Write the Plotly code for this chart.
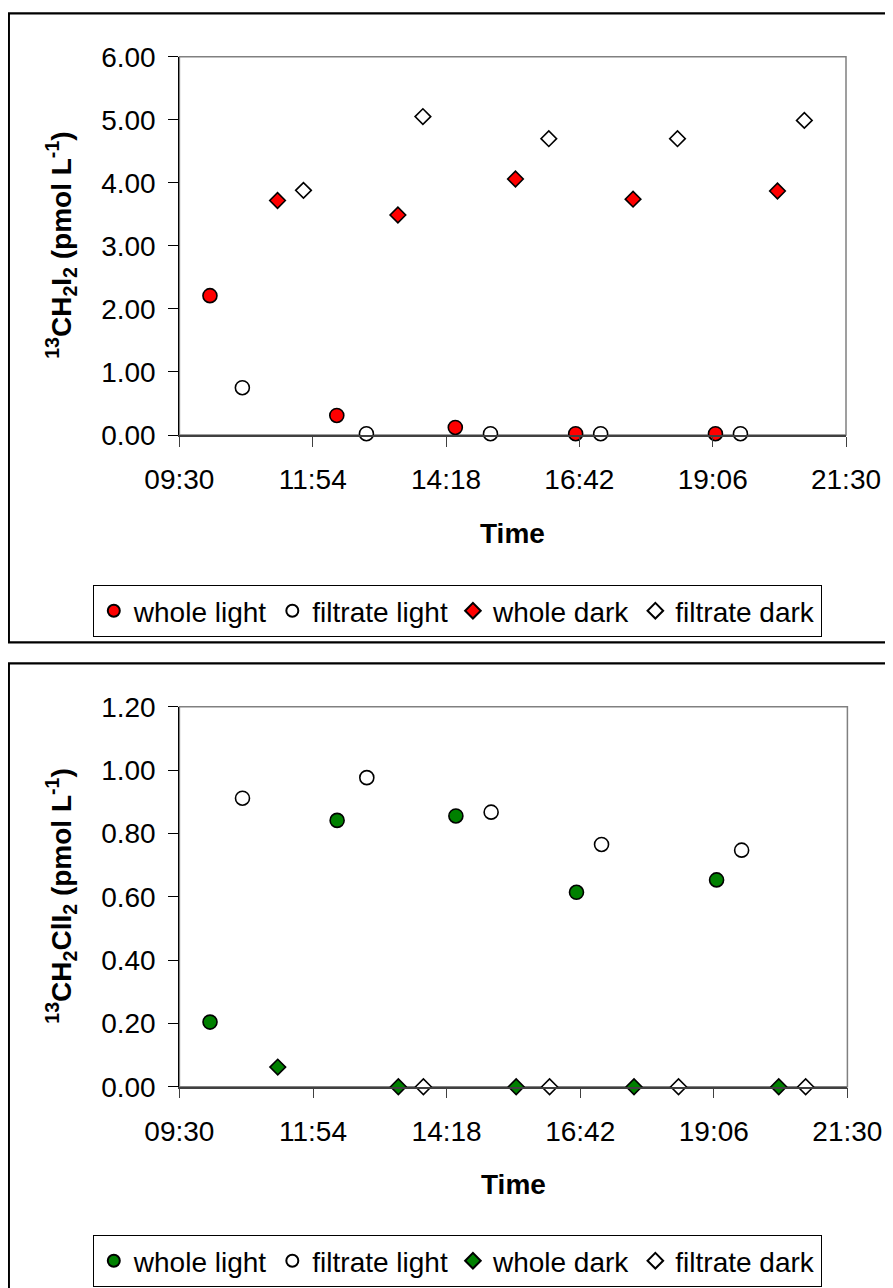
import plotly.graph_objects as go

# The page body adds an 8 px margin, so the figure is 8 px smaller and all
# reference pixel positions are shifted by that offset.
OFF = 8
W, H = 893 - OFF, 1288 - OFF
DAY = "2024-01-01 "

# ---------------- data ----------------
t_whole_light = ["10:03", "12:20", "14:28", "16:38", "19:09"]
t_filt_light = ["10:38", "12:52", "15:06", "17:05", "19:36"]
t_whole_dark = ["11:16", "13:26", "15:33", "17:40", "20:16"]
t_filt_dark = ["11:44", "13:53", "16:09", "18:28", "20:45"]

ch2i2_whole_light = [2.21, 0.31, 0.12, 0.02, 0.02]
ch2i2_filt_light = [0.75, 0.02, 0.02, 0.02, 0.02]
ch2i2_whole_dark = [3.72, 3.49, 4.06, 3.74, 3.87]
ch2i2_filt_dark = [3.88, 5.05, 4.70, 4.70, 4.99]

ch2cli_whole_light = [0.204, 0.841, 0.855, 0.614, 0.653]
ch2cli_filt_light = [0.911, 0.976, 0.867, 0.765, 0.747]
ch2cli_whole_dark = [0.062, 0.0, 0.0, 0.0, 0.0]
t_filt_dark_b = ["13:53", "16:09", "18:28", "20:45"]
ch2cli_filt_dark = [0.0, 0.0, 0.0, 0.0]

series_names = ["whole light", "filtrate light", "whole dark", "filtrate dark"]
x_ticks = ["09:30", "11:54", "14:18", "16:42", "19:06", "21:30"]

# ---------------- figure ----------------
FONT = "Liberation Sans, Arial, sans-serif"
fig = go.Figure()

def px_x(p):
    return (p - OFF) / W

def px_y(p):
    return 1 - (p - OFF) / H

def add(xs, ys, name, symbol, color, xa, ya, leg):
    size = 14 if symbol == "circle" else 12
    fig.add_trace(go.Scatter(
        x=[DAY + t for t in xs], y=ys, mode="markers", name=name,
        xaxis=xa, yaxis=ya, legend=leg, cliponaxis=False,
        marker=dict(symbol=symbol, size=size, color=color,
                    line=dict(color="black", width=1.6)),
    ))

RED, GREEN, WHITE = "#FF0000", "#008000", "#FFFFFF"

add(t_whole_light, ch2i2_whole_light, series_names[0], "circle", RED, "x", "y", "legend")
add(t_filt_light, ch2i2_filt_light, series_names[1], "circle", WHITE, "x", "y", "legend")
add(t_whole_dark, ch2i2_whole_dark, series_names[2], "diamond", RED, "x", "y", "legend")
add(t_filt_dark, ch2i2_filt_dark, series_names[3], "diamond", WHITE, "x", "y", "legend")

add(t_whole_light, ch2cli_whole_light, series_names[0], "circle", GREEN, "x2", "y2", "legend2")
add(t_filt_light, ch2cli_filt_light, series_names[1], "circle", WHITE, "x2", "y2", "legend2")
add(t_whole_dark, ch2cli_whole_dark, series_names[2], "diamond", GREEN, "x2", "y2", "legend2")
add(t_filt_dark_b, ch2cli_filt_dark, series_names[3], "diamond", WHITE, "x2", "y2", "legend2")

tickvals = [DAY + t for t in x_ticks]
xcommon = dict(
    type="date", range=[tickvals[0], tickvals[-1]], tickvals=tickvals, ticktext=x_ticks,
    showline=True, linecolor="#404040", linewidth=1.5, ticks="outside", ticklen=10,
    tickcolor="#404040", tickwidth=1.3, showgrid=False, zeroline=False, automargin=False,
    tickfont=dict(family=FONT, size=28, color="black"), ticklabelstandoff=9,
)
ycommon = dict(
    showline=True, linecolor="black", linewidth=1.3, ticks="outside", ticklen=10,
    tickcolor="black", tickwidth=1.3, showgrid=False, zeroline=False, tickformat=".2f",
    automargin=False,
    tickfont=dict(family=FONT, size=28, color="black"), ticklabelstandoff=7,
)

# pixel geometry (reference pixels)
top_plot = dict(l=179.4, r=846.0, t=56.7, b=435.0)
bot_plot = dict(l=179.4, r=847.4, t=706.7, b=1086.7)

legend_common = dict(orientation="h", xanchor="left", yanchor="top",
                     bordercolor="black", borderwidth=1, bgcolor="white",
                     font=dict(family=FONT, size=28, color="black"), itemsizing="constant",
                     itemwidth=30, tracegroupgap=0)

fig.update_layout(
    width=W, height=H, margin=dict(l=0, r=0, t=0, b=0, pad=0, autoexpand=False),
    paper_bgcolor="white", plot_bgcolor="white",
    font=dict(family=FONT, size=28, color="black"),
    xaxis=dict(domain=[px_x(top_plot["l"]), px_x(top_plot["r"])], anchor="y", **xcommon),
    yaxis=dict(domain=[px_y(top_plot["b"]), px_y(top_plot["t"])], anchor="x",
               range=[0, 6], dtick=1, **ycommon),
    xaxis2=dict(domain=[px_x(bot_plot["l"]), px_x(bot_plot["r"])], anchor="y2", **xcommon),
    yaxis2=dict(domain=[px_y(bot_plot["b"]), px_y(bot_plot["t"])], anchor="x2",
                range=[0, 1.2], dtick=0.2, **ycommon),
    legend=dict(x=px_x(92.8), y=px_y(585), **legend_common),
    legend2=dict(x=px_x(92.8), y=px_y(1235), **legend_common),
    showlegend=True,
)

# plot-area grey frames and panel borders
fig.add_shape(type="rect", xref="x domain", yref="y domain", x0=0, x1=1, y0=0, y1=1,
              line=dict(color="#808080", width=1.5), layer="below")
fig.add_shape(type="rect", xref="x2 domain", yref="y2 domain", x0=0, x1=1, y0=0, y1=1,
              line=dict(color="#808080", width=1.5), layer="below")
fig.add_shape(type="rect", xref="paper", yref="paper",
              x0=px_x(8.8), x1=px_x(900), y0=px_y(642.3), y1=px_y(13.3),
              line=dict(color="black", width=2.3))
fig.add_shape(type="rect", xref="paper", yref="paper",
              x0=px_x(8.8), x1=px_x(900), y0=px_y(1300), y1=px_y(663.3),
              line=dict(color="black", width=2.3))

# axis titles
ytitle1 = "<b><sup>13</sup>CH<sub>2</sub>I<sub>2</sub> (pmol L<sup>-1</sup>)</b>"
ytitle2 = "<b><sup>13</sup>CH<sub>2</sub>ClI<sub>2</sub> (pmol L<sup>-1</sup>)</b>"
for title, plot in [(ytitle1, top_plot), (ytitle2, bot_plot)]:
    fig.add_annotation(text=title, xref="paper", yref="paper",
                       x=px_x(61), y=px_y((plot["t"] + plot["b"]) / 2),
                       textangle=-90, showarrow=False, xanchor="center", yanchor="middle",
                       font=dict(family=FONT, size=28, color="black"))
    fig.add_annotation(text="<b>Time</b>", xref="paper", yref="paper",
                       x=px_x((plot["l"] + plot["r"]) / 2), y=px_y(plot["b"] + 98),
                       showarrow=False, xanchor="center", yanchor="middle",
                       font=dict(family=FONT, size=28, color="black"))

fig.write_html("out.html")
